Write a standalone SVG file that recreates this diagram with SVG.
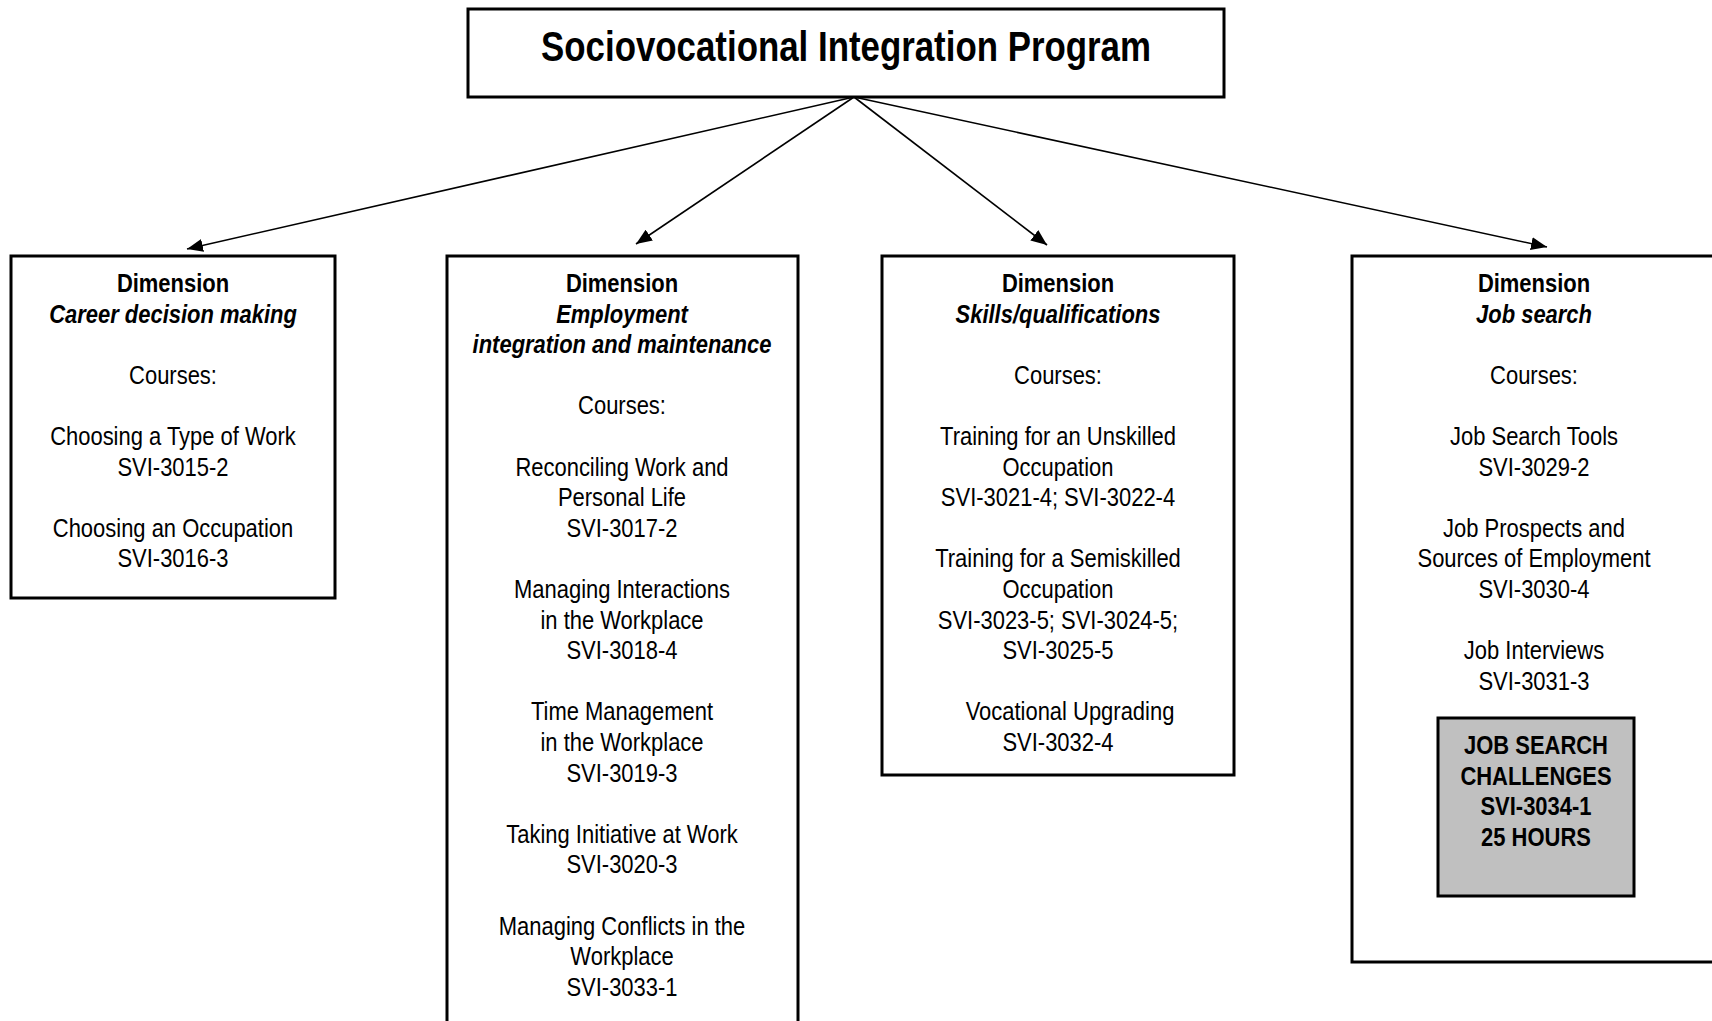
<svg xmlns="http://www.w3.org/2000/svg" width="1712" height="1021" viewBox="0 0 1712 1021">
<style>
  .box { fill: #ffffff; stroke: #000000; stroke-width: 3; }
  .grey { fill: #c0c0c0; stroke: #000000; stroke-width: 3; }
  text { font-family: "Liberation Sans Narrow", "Arial Narrow", "Liberation Sans", Arial, sans-serif; font-size: 26px; fill: #000000; text-anchor: middle; }
  .title { font-size: 42px; font-weight: bold; }
  .b { font-weight: bold; }
  .bi { font-weight: bold; font-style: italic; }
  .conn { stroke: #000000; stroke-width: 1.6; fill: none; marker-end: url(#arrow); }
</style>
<defs>
  <marker id="arrow" markerUnits="userSpaceOnUse" markerWidth="17" markerHeight="13" refX="16" refY="6.5" orient="auto">
    <path d="M0,0 L16,6.5 L0,13 z" fill="#000000"/>
  </marker>
</defs>
<rect x="0" y="0" width="1712" height="1021" fill="#ffffff"/>

<g id="connectors">
  <line class="conn" x1="854" y1="97" x2="187" y2="249"/>
  <line class="conn" x1="854" y1="97" x2="636" y2="244"/>
  <line class="conn" x1="854" y1="97" x2="1047" y2="245"/>
  <line class="conn" x1="854" y1="97" x2="1547" y2="247"/>
</g>

<g id="program">
  <rect class="box" x="468" y="9" width="756" height="88"/>
  <g transform="translate(846 0) scale(0.83 1)">
    <text class="title" x="0" y="61">Sociovocational Integration Program</text>
  </g>
</g>

<g id="dim-career">
  <rect class="box" x="11" y="256" width="324" height="342"/>
  <g transform="translate(173 0) scale(0.845 1)">
    <text class="b" x="0" y="292">Dimension</text>
    <text class="bi" x="0" y="322.6">Career decision making</text>
    <text x="0" y="383.8">Courses:</text>
    <text x="0" y="445">Choosing a Type of Work</text>
    <text x="0" y="475.6">SVI-3015-2</text>
    <text x="0" y="536.8">Choosing an Occupation</text>
    <text x="0" y="567.4">SVI-3016-3</text>
  </g>
</g>

<g id="dim-employment">
  <rect class="box" x="447" y="256" width="351" height="790"/>
  <g transform="translate(622 0) scale(0.845 1)">
    <text class="b" x="0" y="292">Dimension</text>
    <text class="bi" x="0" y="322.6">Employment</text>
    <text class="bi" x="0" y="353.2">integration and maintenance</text>
    <text x="0" y="414.4">Courses:</text>
    <text x="0" y="475.6">Reconciling Work and</text>
    <text x="0" y="506.2">Personal Life</text>
    <text x="0" y="536.8">SVI-3017-2</text>
    <text x="0" y="598">Managing Interactions</text>
    <text x="0" y="628.6">in the Workplace</text>
    <text x="0" y="659.2">SVI-3018-4</text>
    <text x="0" y="720.4">Time Management</text>
    <text x="0" y="751">in the Workplace</text>
    <text x="0" y="781.6">SVI-3019-3</text>
    <text x="0" y="842.8">Taking Initiative at Work</text>
    <text x="0" y="873.4">SVI-3020-3</text>
    <text x="0" y="934.6">Managing Conflicts in the</text>
    <text x="0" y="965.2">Workplace</text>
    <text x="0" y="995.8">SVI-3033-1</text>
  </g>
</g>

<g id="dim-skills">
  <rect class="box" x="882" y="256" width="352" height="519"/>
  <g transform="translate(1058 0) scale(0.845 1)">
    <text class="b" x="0" y="292">Dimension</text>
    <text class="bi" x="0" y="322.6">Skills/qualifications</text>
    <text x="0" y="383.8">Courses:</text>
    <text x="0" y="445">Training for an Unskilled</text>
    <text x="0" y="475.6">Occupation</text>
    <text x="0" y="506.2">SVI-3021-4; SVI-3022-4</text>
    <text x="0" y="567.4">Training for a Semiskilled</text>
    <text x="0" y="598">Occupation</text>
    <text x="0" y="628.6">SVI-3023-5; SVI-3024-5;</text>
    <text x="0" y="659.2">SVI-3025-5</text>
    <text x="14.2" y="720.4">Vocational Upgrading</text>
    <text x="0" y="751">SVI-3032-4</text>
  </g>
</g>

<g id="dim-jobsearch">
  <rect class="box" x="1352" y="256" width="366" height="706"/>
  <g transform="translate(1534 0) scale(0.845 1)">
    <text class="b" x="0" y="292">Dimension</text>
    <text class="bi" x="0" y="322.6">Job search</text>
    <text x="0" y="383.8">Courses:</text>
    <text x="0" y="445">Job Search Tools</text>
    <text x="0" y="475.6">SVI-3029-2</text>
    <text x="0" y="536.8">Job Prospects and</text>
    <text x="0" y="567.4">Sources of Employment</text>
    <text x="0" y="598">SVI-3030-4</text>
    <text x="0" y="659.2">Job Interviews</text>
    <text x="0" y="689.8">SVI-3031-3</text>
  </g>
</g>

<g id="challenges">
  <rect class="grey" x="1438" y="718" width="196" height="178"/>
  <g transform="translate(1536 0) scale(0.845 1)">
    <text class="b" x="0" y="754">JOB SEARCH</text>
    <text class="b" x="0" y="784.6">CHALLENGES</text>
    <text class="b" x="0" y="815.2">SVI-3034-1</text>
    <text class="b" x="0" y="845.8">25 HOURS</text>
  </g>
</g>
</svg>
